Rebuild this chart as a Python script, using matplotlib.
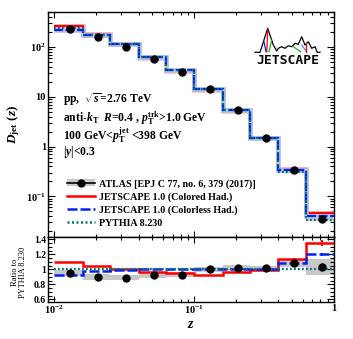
import numpy as np
import matplotlib
matplotlib.use("Agg")
import matplotlib.pyplot as plt
from matplotlib.patches import Patch
from matplotlib.lines import Line2D
from matplotlib.ticker import FixedLocator, FixedFormatter, LogLocator, MultipleLocator, NullFormatter

plt.rcParams['font.family'] = ['Liberation Serif', 'DejaVu Serif']
plt.rcParams['font.weight'] = 'bold'
plt.rcParams['mathtext.fontset'] = 'custom'
plt.rcParams['mathtext.rm'] = 'Liberation Serif:bold'
plt.rcParams['mathtext.it'] = 'Liberation Serif:bold:italic'
plt.rcParams['mathtext.bf'] = 'Liberation Serif:bold'

# ---------------- data ----------------
z_edges = [0.01, 0.016, 0.025, 0.04, 0.063, 0.1, 0.16, 0.25, 0.4, 0.63, 1.0]
pythia = [240, 178, 115, 63.0, 34.0, 14.6, 5.4, 1.50, 0.310, 0.0340]
colored = [264, 185, 115, 61.1, 32.3, 13.4, 5.18, 1.49, 0.353, 0.0459]
colorless = [221, 173, 114, 63.6, 34.3, 14.6, 5.40, 1.50, 0.335, 0.0408]
colored_stat = [0, 0, 0, 0, 0, 0, 0, 0, 0.004, 0.0012]
colorless_stat = [0, 0, 0, 0, 0, 0, 0, 0, 0.003, 0.0008]
atlas = [228, 160, 102, 58.0, 31.6, 14.6, 5.51, 1.52, 0.335, 0.0352]
atlas_stat = [1.0, 0.8, 0.5, 0.3, 0.15, 0.07, 0.03, 0.01, 0.006, 0.0017]
atlas_sys = [9.1, 6.4, 4.1, 2.3, 1.0, 0.45, 0.17, 0.05, 0.014, 0.0036]

legend_labels = ['ATLAS [EPJ C 77, no. 6, 379 (2017)]',
                 'JETSCAPE 1.0 (Colored Had.)',
                 'JETSCAPE 1.0 (Colorless Had.)',
                 'PYTHIA 8.230']
top_yticks = [0.1, 1, 10, 100]
top_yticklabels = [r'$10^{-1}$', '1', '10', r'$10^{2}$']
ratio_yticks = [0.6, 0.8, 1.0, 1.2, 1.4]
ratio_yticklabels = ['0.6', '0.8', '1', '1.2', '1.4']
xticks = [0.01, 0.1, 1.0]
xticklabels = [r'$10^{-2}$', r'$10^{-1}$', '1']

edges = np.array(z_edges)
centers = 0.5 * (edges[:-1] + edges[1:])
widths = edges[1:] - edges[:-1]
py = np.array(pythia)
col = np.array(colored)
cls = np.array(colorless)
dat = np.array(atlas)
dstat = np.array(atlas_stat)
dsys = np.array(atlas_sys)

RED = '#ff0000'
BLUE = '#0022ee'
TEAL = '#007575'
GREY = '#c8c8c8'

fig = plt.figure(figsize=(3.53, 3.39), dpi=100)
ax1 = fig.add_axes([0.136, 0.3009, 0.8102, 0.6637])
ax2 = fig.add_axes([0.136, 0.1091, 0.8102, 0.1918])

# ---------------- top panel ----------------
for i in range(len(dat)):
    ax1.add_patch(plt.Rectangle((edges[i], dat[i] - dsys[i]), widths[i], 2 * dsys[i],
                                facecolor=GREY, edgecolor='none', zorder=1))
ax1.stairs(col, edges, color='#f6c0c0', lw=3.4, baseline=None, zorder=2)
ax1.stairs(col, edges, color=RED, lw=1.6, baseline=None, zorder=3)
ax1.stairs(cls, edges, color='#b9c2e2', lw=3.4, baseline=None, zorder=4)
ax1.stairs(cls, edges, color=BLUE, lw=1.6, ls=(0, (4, 1.2)), baseline=None, zorder=5)
ax1.stairs(py, edges, color=TEAL, lw=1.6, ls=(0, (0.8, 1.0)), baseline=None, zorder=6)
ax1.errorbar(centers, dat, yerr=dstat, fmt='o', color='k', ms=5, lw=1, zorder=8)

ax1.set_xscale('log')
ax1.set_yscale('log')
ax1.set_xlim(0.009, 1.0)
ax1.set_ylim(0.0153, 505)
ax1.yaxis.set_major_locator(FixedLocator(top_yticks))
ax1.yaxis.set_major_formatter(FixedFormatter(top_yticklabels))
ax1.yaxis.set_minor_locator(LogLocator(base=10, subs=np.arange(2, 10), numticks=20))
ax1.yaxis.set_minor_formatter(NullFormatter())
ax1.xaxis.set_major_locator(FixedLocator(xticks))
ax1.xaxis.set_minor_locator(LogLocator(base=10, subs=np.arange(2, 10), numticks=20))
ax1.xaxis.set_major_formatter(NullFormatter())
ax1.xaxis.set_minor_formatter(NullFormatter())
ax1.set_ylabel(r'$D_{\rm jet}\ (z)$', fontsize=9.5)
ax1.yaxis.set_label_coords(-0.09, 0.5)

# annotation text
txt = [r'pp,  $\sqrt{s}$=2.76 TeV',
       r'anti-$k_{\rm T}$  $R$=0.4 , $p_{\rm T}^{\rm trk}$>1.0 GeV',
       r'100 GeV<$p_{\rm T}^{\rm jet}$ <398 GeV',
       r'$|y|$<0.3']
for t, yy in zip(txt, [0.609, 0.529, 0.453, 0.378]):
    ax1.text(0.052, yy, t, transform=ax1.transAxes, fontsize=8.4, va='center', ha='left')

# legend
h_atlas = (Patch(facecolor=GREY, edgecolor='none'),
           Line2D([], [], color='k', lw=1.2, marker='o', ms=5))
h_col = Line2D([], [], color=RED, lw=1.8)
h_cls = Line2D([], [], color=BLUE, lw=1.8, ls=(0, (4, 1.2)))
h_py = Line2D([], [], color=TEAL, lw=1.8, ls=(0, (0.8, 1.0)))
leg = ax1.legend([h_atlas, h_col, h_cls, h_py], legend_labels, loc='upper left',
                 bbox_to_anchor=(0.059, 0.267), frameon=False, fontsize=7.2,
                 handlelength=2.8, handletextpad=0.4, labelspacing=0.37,
                 borderpad=0.2, borderaxespad=0.0)

# JETSCAPE logo (decoration, in pixel-derived axes fractions)
def px(x, y):
    return ((x - 48.0) / 286.0, (237.0 - y) / 225.0)

mount = [(255, 52.3), (260, 52.3), (267.7, 28.3), (273.3, 45), (276.7, 51), (278.3, 48.3),
         (281.7, 46.7), (285, 48.3), (288.3, 45.7), (291.7, 46.7), (295, 43.3), (298.3, 44.3),
         (301.7, 36.7), (305, 45), (308.3, 41.7), (311.7, 48.3), (315, 46.7), (317.3, 52.3),
         (320, 52.3)]
mx, my = zip(*[px(a, b) for a, b in mount])
ax1.plot(mx, my, color='k', lw=0.9, transform=ax1.transAxes, zorder=9)
for (p0, p1, c) in [((267.7, 30), (266.8, 51.7), RED),
                    ((264, 41.7), (266, 51.7), BLUE),
                    ((271.7, 40), (269, 51.7), '#22aa22'),
                    ((293.3, 46.7), (300.5, 51.7), '#22aa22'),
                    ((301.7, 45), (306.5, 51.7), '#5577ff'),
                    ((305.7, 43.3), (305.7, 51.7), RED)]:
    a, b = px(*p0), px(*p1)
    ax1.plot([a[0], b[0]], [a[1], b[1]], color=c, lw=0.9, transform=ax1.transAxes, zorder=9)
lx, ly = px(287.5, 60.5)
ax1.text(lx, ly, 'JETSCAPE', transform=ax1.transAxes, family='DejaVu Sans Mono',
         fontweight='bold', fontsize=9.4, ha='center', va='center', zorder=9)

# ---------------- ratio panel ----------------
r_dat = dat / py
r_sys = dsys / py
r_stat = dstat / py
r_col = col / py
r_cls = cls / py
r_py = py / py
for i in range(len(dat)):
    ax2.add_patch(plt.Rectangle((edges[i], r_dat[i] - r_sys[i]), widths[i], 2 * r_sys[i],
                                facecolor=GREY, edgecolor='none', zorder=1))
ax2.stairs(r_col, edges, color=RED, lw=1.8, baseline=None, zorder=3)
ax2.errorbar(centers, r_col, yerr=np.array(colored_stat) / py, fmt='none', ecolor=RED, lw=1.4, zorder=3)
ax2.stairs(r_cls, edges, color=BLUE, lw=1.8, ls=(0, (4, 1.2)), baseline=None, zorder=4)
ax2.errorbar(centers, r_cls, yerr=np.array(colorless_stat) / py, fmt='none', ecolor=BLUE, lw=1.4, zorder=4)
ax2.stairs(r_py, edges, color=TEAL, lw=1.6, ls=(0, (0.8, 1.0)), baseline=None, zorder=5)
ax2.errorbar(centers, r_dat, yerr=r_stat, fmt='o', color='k', ms=5, lw=1, zorder=8)

ax2.set_xscale('log')
ax2.set_xlim(0.009, 1.0)
ax2.set_ylim(0.565, 1.43)
ax2.yaxis.set_major_locator(FixedLocator(ratio_yticks))
ax2.yaxis.set_major_formatter(FixedFormatter(ratio_yticklabels))
ax2.yaxis.set_minor_locator(MultipleLocator(0.05))
ax2.xaxis.set_major_locator(FixedLocator(xticks))
ax2.xaxis.set_major_formatter(FixedFormatter(xticklabels))
ax2.xaxis.set_minor_locator(LogLocator(base=10, subs=np.arange(2, 10), numticks=20))
ax2.xaxis.set_minor_formatter(NullFormatter())
ax2.set_xlabel(r'$z$', fontsize=10, labelpad=1)
ax2.set_ylabel('Ratio to\nPYTHIA 8.230', fontsize=6.0, linespacing=1.1)
ax2.yaxis.set_label_coords(-0.073, 0.46)

for ax in (ax1, ax2):
    ax.tick_params(which='both', direction='in', top=True, right=True, width=0.8)
    ax.tick_params(which='major', length=5.2, labelsize=7.5, pad=1.5)
    ax.tick_params(which='minor', length=2.6)
    for s in ax.spines.values():
        s.set_linewidth(1.0)
ax2.tick_params(axis='y', which='major', labelsize=7)
ax2.tick_params(axis='x', which='major', labelsize=7.5, pad=1.5, length=4)
ax2.tick_params(axis='x', which='minor', length=2.2)
ax1.tick_params(axis='x', which='major', length=4)
ax1.tick_params(axis='x', which='minor', length=2.4)

fig.savefig('out.png', dpi=100)
